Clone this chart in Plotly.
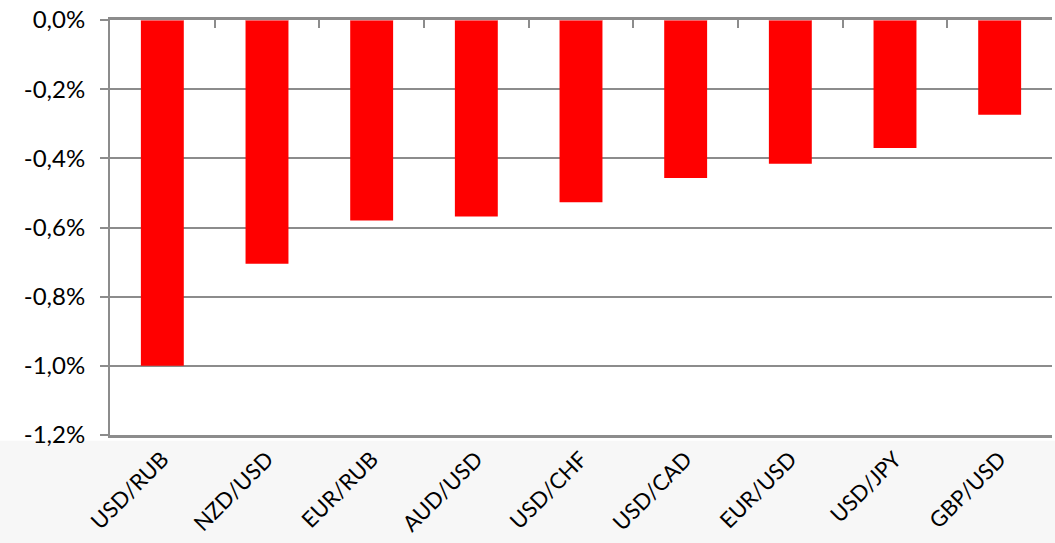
import plotly.graph_objects as go

pairs = ["USD/RUB", "NZD/USD", "EUR/RUB", "AUD/USD", "USD/CHF",
         "USD/CAD", "EUR/USD", "USD/JPY", "GBP/USD"]
changes = [-0.0100, -0.00705, -0.00580, -0.00568, -0.00527,
           -0.00457, -0.00416, -0.00370, -0.00274]
y_ticks = [0, -0.002, -0.004, -0.006, -0.008, -0.010, -0.012]
y_tick_labels = ["0,0%", "-0,2%", "-0,4%", "-0,6%", "-0,8%", "-1,0%", "-1,2%"]

grey = "#8c8c8c"
font_family = "Lato, 'Open Sans', sans-serif"

fig = go.Figure()
fig.add_trace(go.Bar(x=pairs, y=changes, marker_color="#ff0000",
                     marker_line_width=0, showlegend=False, hoverinfo="x+y"))
fig.add_trace(go.Bar(x=pairs, y=[0] * len(pairs), xaxis="x2", yaxis="y",
                     showlegend=False, hoverinfo="skip", marker_color="rgba(0,0,0,0)"))

fig.update_layout(
    width=1055, height=543,
    margin=dict(l=110, r=3, t=20, b=108),
    paper_bgcolor="#f7f7f7",
    plot_bgcolor="white",
    separators=", ",
    bargap=0.59,
    font=dict(family=font_family, size=22, color="black"),
    xaxis=dict(
        type="category", showline=True, linecolor=grey, linewidth=2.5,
        ticks="", tickangle=-45, tickfont=dict(size=22, color="black"),
        showgrid=False, zeroline=False, automargin=False,
    ),
    xaxis2=dict(
        type="category", overlaying="x", side="top", matches="x",
        showline=True, linecolor=grey, linewidth=2.5,
        ticks="inside", ticklen=8, tickwidth=2, tickcolor=grey,
        tickson="boundaries", showticklabels=False, showgrid=False,
        automargin=False,
    ),
    yaxis=dict(
        range=[-0.012, 0], tickvals=y_ticks, ticktext=y_tick_labels,
        showline=True, linecolor=grey, linewidth=2,
        ticks="outside", ticklen=8, tickwidth=2, tickcolor=grey,
        showgrid=True, gridcolor=grey, gridwidth=2, zeroline=False,
        tickfont=dict(size=24, color="black"), automargin=False,
        ticklabelstandoff=10,
    ),
    shapes=[dict(type="rect", xref="paper", yref="paper",
                 x0=-0.2, x1=1.05, y0=-0.014, y1=1.1,
                 fillcolor="white", line_width=0, layer="below")],
)

fig.write_html("out.html", config={"displayModeBar": False},
               post_script="document.body.style.margin='0px';document.body.style.overflow='hidden';")
